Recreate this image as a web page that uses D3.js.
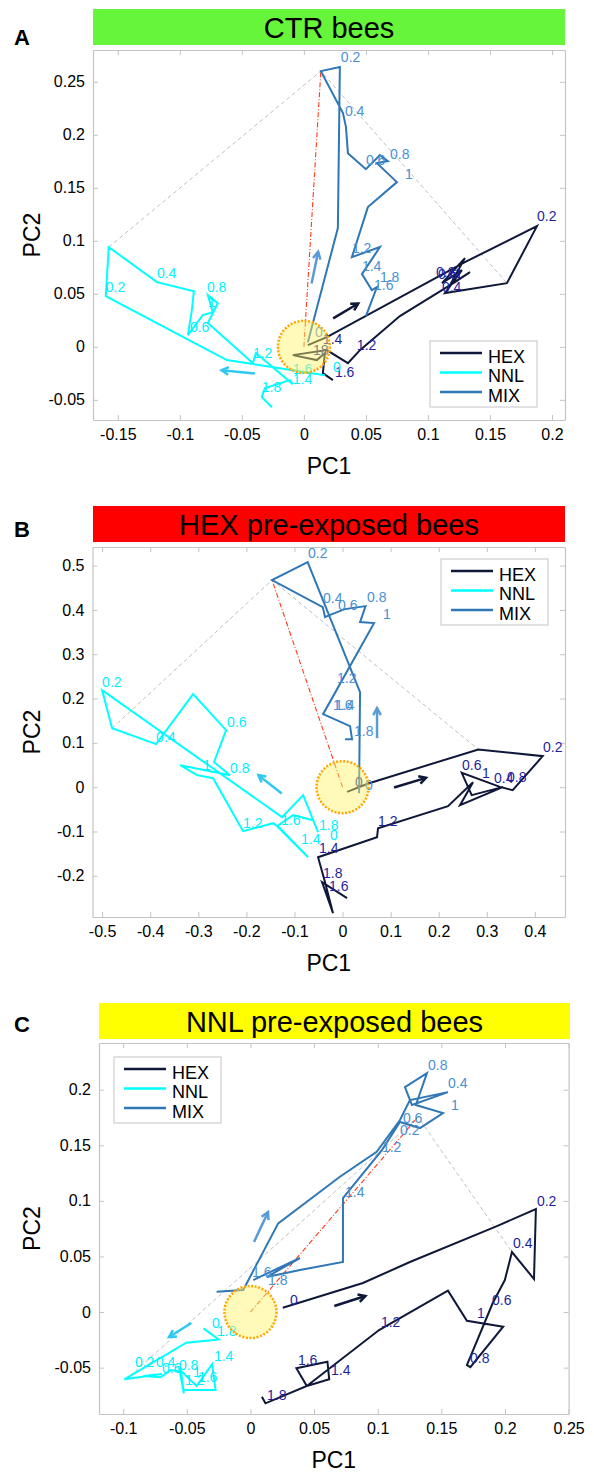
<!DOCTYPE html>
<html>
<head>
<meta charset="utf-8">
<script src="https://cdn.jsdelivr.net/npm/d3@7"></script>
<style>
body { margin: 0; background: #fff; }
svg { display: block; font-family: "Liberation Sans", Arial, Helvetica, sans-serif; }
</style>
</head>
<body>
<svg id="fig" width="594" height="1473"></svg>
<script>
// ---- shared ----
const seriesNames = ["HEX", "NNL", "MIX"];
const lineColors = { HEX: "#0f1838", NNL: "#00ffff", MIX: "#2f77b5" };
const labelColors = { HEX: "#1f1fa0", NNL: "#00f0ff", MIX: "#4a90d4" };
const arrowColors = { HEX: "#0f1838", NNL: "#30c8f0", MIX: "#5b9bd5" };

// ---- panel A : CTR bees ----
const ctrXTicks = [-0.15, -0.1, -0.05, 0, 0.05, 0.1, 0.15, 0.2];
const ctrYTicks = [-0.05, 0, 0.05, 0.1, 0.15, 0.2, 0.25];
const ctrXDomain = [-0.17, 0.2105];
const ctrYDomain = [-0.069, 0.28];

const ctrHex = [[0.0032,0.0016],[0.0185,0.0092],[0.1298,0.0799],[0.1879,0.1139],[0.1637,0.0601],[0.1137,0.0507],
  [0.1274,0.0724],[0.1113,0.0601],[0.1298,0.0837],[0.1177,0.0582],[0.1339,0.0705],[0.1218,0.061],[0.0774,0.029],
  [0.0452,-0.0031],[0.0355,-0.0154],[0.0185,-0.0031],[-0.0089,-0.0078],[0.0105,-0.0125],[0.0169,-0.0059],
  [0.0153,-0.0248],[0.0234,-0.0314]];
const ctrNnl = [[0.0169,-0.0267],[-0.0621,-0.0125],[-0.1597,0.0478],[-0.1573,0.0941],[-0.1185,0.061],[-0.0887,0.0525],
  [-0.0903,0.0346],[-0.0935,0.011],[-0.0815,0.03],[-0.0734,0.0327],[-0.0774,0.0488],[-0.0694,0.0412],[-0.0774,0.0224],
  [-0.0411,-0.0154],[-0.0387,-0.0059],[-0.0089,-0.0352],[-0.0113,-0.0314],[-0.0315,-0.039],[-0.0339,-0.0474],
  [-0.0258,-0.0569]];
const ctrMix = [[0.0032,0.0044],[0.0274,0.112],[0.029,0.2639],[0.0137,0.2601],[0.0315,0.2205],[0.0339,0.2075],
  [0.0355,0.1827],[0.05,0.1676],[0.0613,0.1809],[0.0677,0.1752],[0.0589,0.1733],[0.075,0.1554],[0.0516,0.1318],
  [0.0387,0.0846],[0.0613,0.0941],[0.0468,0.0686],[0.0548,0.0535],[0.0589,0.0563],[0.05,0.029]];

const ctrHexLabels = [["0.2",0.1879,0.1231],["0.4",0.1113,0.0563],["0.6",0.1081,0.0686],["0.8",0.1065,0.0705],
  ["1",0.1218,0.0695],["1.2",0.0427,0.0016],["1.4",0.0153,0.0073],["1.6",0.025,-0.0239],["18",0.0073,-0.0031]];
const ctrNnlLabels = [["0",0.0234,-0.0191],["0.2",-0.1597,0.0563],["0.4",-0.1185,0.0695],["0.6",-0.0919,0.0186],
  ["0.8",-0.0782,0.0563],["1",-0.0774,0.0422],["1.2",-0.0411,-0.0059],["1.4",-0.0089,-0.0304],["1.6",-0.0089,-0.021],
  ["1.8",-0.0339,-0.038]];
const ctrMixLabels = [["0",0.0089,0.0139],["0.2",0.0298,0.2733],["0.4",0.0331,0.2224],["0.6",0.05,0.1761],
  ["0.8",0.0694,0.1818],["1",0.0815,0.1629],["1.2",0.0387,0.0931],["1.4",0.0468,0.0761],["1.6",0.0565,0.0582],
  ["1.8",0.0613,0.0658]];

const ctrArrows = { HEX: [0.0236,0.0268,0.0438,0.0409], NNL: [-0.0395,-0.0251,-0.0664,-0.022], MIX: [0.0062,0.0598,0.0115,0.0896] };
const ctrTriangle = [[-0.1573,0.0941],[0.0137,0.2601],[0.1637,0.0601]];

// ---- panel B : HEX pre-exposed bees ----
const hexXTicks = [-0.5, -0.4, -0.3, -0.2, -0.1, 0, 0.1, 0.2, 0.3, 0.4];
const hexYTicks = [-0.2, -0.1, 0, 0.1, 0.2, 0.3, 0.4, 0.5];
const hexXDomain = [-0.52, 0.4626];
const hexYDomain = [-0.293, 0.542];

const hexHex = [[0.0094,-0.0106],[0.0536,0.0084],[0.2823,0.0851],[0.4162,0.07],[0.3538,-0.0068],[0.3274,0.0007],
  [0.2478,0.0323],[0.2686,-0.0181],[0.3343,0.0007],[0.2443,-0.0406],[0.2713,0.0113],[0.2193,-0.0429],[0.0738,-0.0926],
  [0.0717,-0.1129],[-0.0509,-0.158],[-0.0364,-0.2144],[-0.0198,-0.2844],[-0.0426,-0.2144],[0.0094,-0.2506]];
const hexNnl = [[-0.0509,-0.1016],[-0.0821,-0.0181],[-0.1258,-0.0677],[-0.5,0.219],[-0.4792,0.1332],[-0.3877,0.0971],
  [-0.3108,0.2099],[-0.2422,0.1287],[-0.2672,0.0564],[-0.2339,0.0271],[-0.3378,0.0497],[-0.3025,0.0271],[-0.2692,0.0203],
  [-0.2069,-0.0993],[-0.1445,-0.0813],[-0.1299,-0.0926],[-0.0717,-0.158],[-0.1362,-0.088],[-0.1029,-0.0632],
  [-0.0613,-0.0745]];
const hexMix = [[0.0343,-0.0135],[0.0364,0.2144],[-0.0726,0.5079],[-0.1466,0.4673],[-0.0412,0.4063],[-0.0364,0.3837],
  [-0.027,0.3883],[0.0046,0.4018],[0.0478,0.4086],[0.0364,0.3725],[0.0655,0.3702],[-0.0405,0.1648],[0.0156,0.1377],
  [0.0198,0.1084],[0.0052,0.1084]];

const hexHexLabels = [["0",0.026,0.0113],["0.2",0.4168,0.0903],["0.4",0.315,0.0203],["0.6",0.2484,0.0497],
  ["0.8",0.342,0.0226],["1",0.29,0.0316],["1.2",0.0738,-0.0767],["1.4",-0.0489,-0.1377],["1.6",-0.0281,-0.2235],
  ["1.8",-0.0405,-0.1941]];
const hexNnlLabels = [["0",-0.026,-0.1084],["0.2",-0.5,0.237],["0.4",-0.3877,0.1129],["0.6",-0.2401,0.1467],
  ["0.8",-0.2339,0.0429],["1",-0.29,0.0497],["1.2",-0.2069,-0.0813],["1.4",-0.0863,-0.1174],["1.6",-0.1279,-0.0745],
  ["1.8",-0.0489,-0.0858]];
const hexMixLabels = [["0",0.0468,0.0045],["0.2",-0.0717,0.5282],["0.4",-0.0405,0.4266],["0.6",-0.0094,0.4108],
  ["0.8",0.0509,0.4289],["1",0.0842,0.3905],["1.2",-0.0114,0.246],["1.4",-0.0156,0.1851],["1.6",-0.0198,0.1851],
  ["1.8",0.0239,0.1264]];

const hexArrows = { HEX: [0.1071,-0.0007,0.1736,0.021], NNL: [-0.1264,-0.0142,-0.175,0.0271], MIX: [0.0717,0.1106,0.0717,0.1783] };
const hexTriangle = [[-0.4792,0.1332],[-0.1466,0.4673],[0.2823,0.0851]];

// ---- panel C : NNL pre-exposed bees ----
const nnlXTicks = [-0.1, -0.05, 0, 0.05, 0.1, 0.15, 0.2, 0.25];
const nnlYTicks = [-0.05, 0, 0.05, 0.1, 0.15, 0.2];
const nnlXDomain = [-0.119, 0.25];
const nnlYDomain = [-0.0917, 0.242];

const nnlHex = [[0.0254,0.0039],[0.0884,0.0261],[0.1253,0.045],[0.1937,0.0773],[0.2243,0.0926],[0.2228,0.0297],
  [0.2055,0.054],[0.1999,0.0288],[0.1904,0.0081],[0.1701,-0.0477],[0.1728,-0.0495],[0.1986,-0.0132],[0.1701,-0.0078],
  [0.1552,0.0192],[0.1011,-0.0162],[0.0443,-0.0665],[0.0619,-0.0605],[0.0605,-0.0447],[0.0361,-0.0506],
  [0.0443,-0.0665],[0.0118,-0.0821],[0.009,-0.0762]];
const nnlNnl = [[-0.0369,-0.0147],[-0.025,-0.0246],[-0.0504,-0.0276],[-0.0991,-0.0605],[-0.0694,-0.0558],
  [-0.0842,-0.0576],[-0.0707,-0.0587],[-0.0625,-0.0522],[-0.0545,-0.0537],[-0.0523,-0.0731],[-0.0558,-0.0515],
  [-0.0423,-0.0665],[-0.0301,-0.0468],[-0.0274,-0.0701],[-0.0518,-0.0701]];
const nnlMix = [[-0.0266,0.0183],[-0.0057,0.0198],[0.0218,0.0798],[0.0703,0.1217],[0.0992,0.1442],[0.1175,0.1727],
  [0.1253,0.1906],[0.1552,0.1978],[0.1269,0.1862],[0.1214,0.2023],[0.1387,0.2149],[0.13,0.1862],[0.1513,0.179],
  [0.1332,0.1655],[0.1175,0.1709],[0.1033,0.1457],[0.0727,0.1025],[0.0727,0.045],[0.0389,0.0378],[0.0127,0.0315],
  [0.0389,0.0486],[0.0022,0.0288]];

const nnlHexLabels = [["0",0.031,0.0108],["0.2",0.2251,0.0998],["0.4",0.2063,0.0621],["0.6",0.1898,0.0108],
  ["0.8",0.1725,-0.0414],["1",0.178,-0.0009],["1.2",0.1025,-0.009],["1.4",0.0633,-0.0522],["1.6",0.0373,-0.0432],
  ["1.8",0.013,-0.0746]];
const nnlNnlLabels = [["0",-0.0303,-0.0099],["0.2",-0.0908,-0.045],["0.4",-0.0743,-0.045],["0.6",-0.0695,-0.0504],
  ["0.8",-0.0562,-0.0477],["1",-0.0452,-0.054],["1.2",-0.0515,-0.0612],["1.4",-0.0287,-0.0396],["1.6",-0.0413,-0.0585],
  ["1.8",-0.0263,-0.0171]];
const nnlMixLabels = [["0.2",0.1175,0.1637],["0.4",0.1552,0.2059],["0.6",0.1198,0.1745],["0.8",0.1395,0.2221],
  ["1",0.1576,0.1862],["1.2",0.1033,0.1484],["1.4",0.0743,0.1079],["1.6",0.0012,0.036],["1.8",0.0138,0.0288]];

const nnlArrows = { HEX: [0.0659,0.0054,0.0903,0.0144], NNL: [-0.0464,-0.0099,-0.064,-0.0225], MIX: [0.0028,0.063,0.0138,0.0899] };
const nnlTriangle = [[-0.0947,-0.0576],[0.1316,0.1754],[0.2055,0.054]];

// ---- build panels ----
const panels = [
  { letter: "A", title: "CTR bees", barColor: "#66f53a",
    box: [93, 50, 565, 420], bar: [93, 9, 565, 45], letterY: 45, legend: [430, 341],
    xDomain: ctrXDomain, yDomain: ctrYDomain, xTicks: ctrXTicks, yTicks: ctrYTicks,
    lines: { HEX: ctrHex, NNL: ctrNnl, MIX: ctrMix },
    labels: { HEX: ctrHexLabels, NNL: ctrNnlLabels, MIX: ctrMixLabels },
    arrows: ctrArrows, triangle: ctrTriangle },
  { letter: "B", title: "HEX pre-exposed bees", barColor: "#ff0000",
    box: [92.5, 547, 565, 917], bar: [93, 506, 565, 542], letterY: 537, legend: [441, 559],
    xDomain: hexXDomain, yDomain: hexYDomain, xTicks: hexXTicks, yTicks: hexYTicks,
    lines: { HEX: hexHex, NNL: hexNnl, MIX: hexMix },
    labels: { HEX: hexHexLabels, NNL: hexNnlLabels, MIX: hexMixLabels },
    arrows: hexArrows, triangle: hexTriangle },
  { letter: "C", title: "NNL pre-exposed bees", barColor: "#ffff00",
    box: [99, 1043, 568.6, 1414], bar: [99, 1003, 570, 1039], letterY: 1032, legend: [114, 1057],
    xDomain: nnlXDomain, yDomain: nnlYDomain, xTicks: nnlXTicks, yTicks: nnlYTicks,
    lines: { HEX: nnlHex, NNL: nnlNnl, MIX: nnlMix },
    labels: { HEX: nnlHexLabels, NNL: nnlNnlLabels, MIX: nnlMixLabels },
    arrows: nnlArrows, triangle: nnlTriangle }
];

const svg = d3.select("#fig");
svg.append("rect").attr("width", 594).attr("height", 1473).attr("fill", "#fff");

const fmt = d => String(+d.toFixed(3));
const frameColor = "#c4c4c4";

function drawPanel(p) {
  const [left, top, right, bottom] = p.box;
  const x = d3.scaleLinear().domain(p.xDomain).range([left, right]);
  const y = d3.scaleLinear().domain(p.yDomain).range([bottom, top]);
  const g = svg.append("g");

  // title bar + letter
  g.append("rect").attr("x", p.bar[0]).attr("y", p.bar[1])
    .attr("width", p.bar[2] - p.bar[0]).attr("height", p.bar[3] - p.bar[1]).attr("fill", p.barColor);
  g.append("text").attr("x", (p.bar[0] + p.bar[2]) / 2).attr("y", p.bar[1] + 29)
    .attr("text-anchor", "middle").attr("font-size", 29).attr("fill", "#000").text(p.title);
  g.append("text").attr("x", 14).attr("y", p.letterY).attr("font-size", 22)
    .attr("font-weight", "bold").attr("fill", "#000").text(p.letter);

  // axes (ticks inside on all sides)
  const axes = [
    [d3.axisBottom(x).tickValues(p.xTicks).tickFormat(fmt).tickPadding(8.5), 0, bottom],
    [d3.axisTop(x).tickValues(p.xTicks).tickFormat(""), 0, top],
    [d3.axisLeft(y).tickValues(p.yTicks).tickFormat(fmt).tickPadding(8), left, 0],
    [d3.axisRight(y).tickValues(p.yTicks).tickFormat(""), right, 0]
  ];
  axes.forEach(([ax, tx, ty]) => {
    const a = g.append("g").attr("transform", `translate(${tx},${ty})`)
      .call(ax.tickSize(-5).tickSizeOuter(0));
    a.select(".domain").attr("stroke", frameColor).attr("stroke-width", 1.2);
    a.selectAll(".tick line").attr("stroke", frameColor);
    a.selectAll("text").attr("font-size", 16).attr("fill", "#000")
      .attr("font-family", "Liberation Sans, Arial, sans-serif");
  });

  g.append("text").attr("x", (left + right) / 2).attr("y", bottom + 54)
    .attr("text-anchor", "middle").attr("font-size", 23).attr("fill", "#000").text("PC1");
  g.append("text").attr("transform", `translate(40,${(top + bottom) / 2}) rotate(-90)`)
    .attr("text-anchor", "middle").attr("font-size", 23).attr("fill", "#000").text("PC2");

  const line = d3.line().x(d => x(d[0])).y(d => y(d[1]));

  // grey triangle and red link to origin
  g.append("path").attr("d", line(p.triangle)).attr("fill", "none")
    .attr("stroke", "#c0c0c0").attr("stroke-width", 1).attr("stroke-dasharray", "4,3");
  g.append("path").attr("d", line([[0, 0], p.triangle[1]])).attr("fill", "none")
    .attr("stroke", "#ff3a1a").attr("stroke-width", 1.1).attr("stroke-dasharray", "5,2,1,2");

  // trajectories
  seriesNames.forEach(s => {
    g.append("path").attr("d", line(p.lines[s])).attr("fill", "none")
      .attr("stroke", lineColors[s]).attr("stroke-width", 2).attr("stroke-linejoin", "miter");
  });

  // time labels
  seriesNames.forEach(s => {
    g.selectAll(null).data(p.labels[s]).join("text")
      .attr("x", d => x(d[1])).attr("y", d => y(d[2]))
      .attr("dy", "0.35em").attr("font-size", 14).attr("fill", labelColors[s]).text(d => d[0]);
  });

  // direction arrows
  seriesNames.forEach(s => {
    const a = p.arrows[s];
    const x1 = x(a[0]), y1 = y(a[1]), x2 = x(a[2]), y2 = y(a[3]);
    const ang = Math.atan2(y2 - y1, x2 - x1), L = 8;
    const head = [[x2 - L * Math.cos(ang - 0.5), y2 - L * Math.sin(ang - 0.5)], [x2, y2],
                  [x2 - L * Math.cos(ang + 0.5), y2 - L * Math.sin(ang + 0.5)]];
    g.append("line").attr("x1", x1).attr("y1", y1).attr("x2", x2).attr("y2", y2)
      .attr("stroke", arrowColors[s]).attr("stroke-width", 2.5);
    g.append("path").attr("d", d3.line()(head)).attr("fill", "none")
      .attr("stroke", arrowColors[s]).attr("stroke-width", 2.5);
  });

  // start zone around origin
  g.append("circle").attr("cx", x(0)).attr("cy", y(0)).attr("r", 26)
    .attr("fill", "#fff566").attr("fill-opacity", 0.45)
    .attr("stroke", "#ffa500").attr("stroke-width", 2.5).attr("stroke-dasharray", "2,1.6");

  // legend
  const [lx, ly] = p.legend;
  const lg = g.append("g").attr("transform", `translate(${lx},${ly})`);
  lg.append("rect").attr("width", 107).attr("height", 66).attr("fill", "#fff").attr("stroke", frameColor);
  seriesNames.forEach((s, i) => {
    const yy = 12 + i * 19.5;
    lg.append("line").attr("x1", 10).attr("x2", 52).attr("y1", yy).attr("y2", yy)
      .attr("stroke", lineColors[s]).attr("stroke-width", 2.5);
    lg.append("text").attr("x", 58).attr("y", yy + 9.5).attr("font-size", 18).attr("fill", "#000").text(s);
  });
}

panels.forEach(drawPanel);
</script>
</body>
</html>
